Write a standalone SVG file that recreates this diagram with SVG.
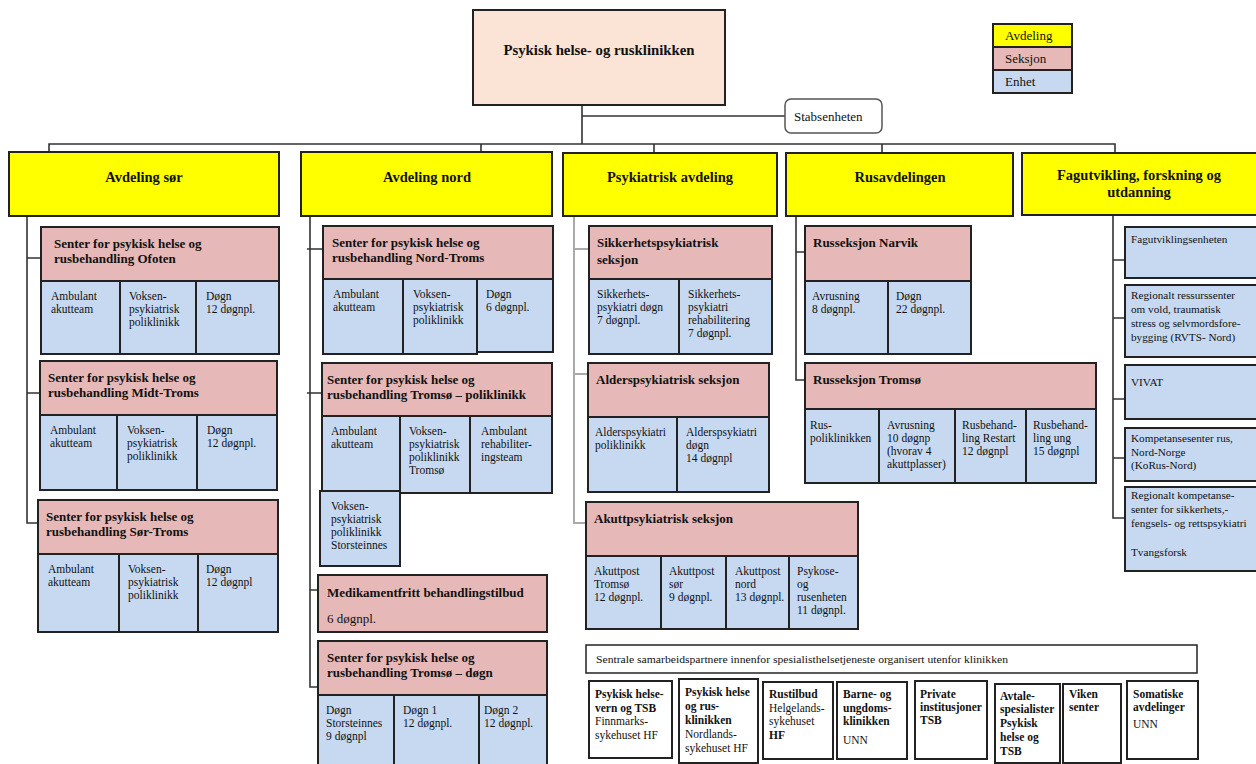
<svg xmlns="http://www.w3.org/2000/svg" width="1256" height="764" viewBox="0 0 1256 764">
<style>
rect{stroke:#222;stroke-width:2}
.ya{fill:#ffff00}.sk{fill:#e6b8b7}.en{fill:#c6d9f1}.tp{fill:#fbe4d5}.wh{fill:#ffffff}
text{font-family:"Liberation Serif","Times New Roman",serif;fill:#111}
.t1{font-size:14.8px;font-weight:bold;text-anchor:middle}
.ty{font-size:14.5px;font-weight:bold;text-anchor:middle}
.ts{font-size:13px;font-weight:bold}
.tm{font-size:13px}
.tc{font-size:11.5px}
.tr{font-size:11.2px}
.tb{font-size:11.5px;font-weight:bold}
.tn{font-size:11.5px}
.lg{font-size:13px}
#connectors path{fill:none;stroke:#333;stroke-width:1.6}
#connectors path.lt{stroke:#aaa;stroke-width:2}
</style>

<g id="connectors">
<path d="M582 106V144M582 116H785"/>
<path d="M49 152V144H1115V152M481 144V152M654 144V152M882 144V152"/>
<path d="M27 216V523H38M27 258H41M27 393H40"/>
<path d="M310 216V687H318M307 249H323M307 393H322M310 590H318"/>
<path class="lt" d="M574 216V523H586M574 249H589M574 374H588"/>
<path d="M796 216V380H805M796 252H805"/>
<path d="M1113 216V518H1125M1113 260H1125M1113 318H1125M1113 399H1125M1113 458H1125"/>
</g>

<g id="klinikken">
<rect class="tp" x="473" y="10" width="252" height="95"/>
<text class="t1" x="599" y="55">Psykisk helse- og rusklinikken</text>
</g>

<g id="legend">
<rect class="ya" x="993" y="24" width="79" height="23"/>
<rect class="sk" x="993" y="47" width="79" height="23"/>
<rect class="en" x="993" y="70" width="79" height="23"/>
<text class="lg" x="1005" y="40">Avdeling</text>
<text class="lg" x="1005" y="63">Seksjon</text>
<text class="lg" x="1005" y="86">Enhet</text>
</g>

<g id="stabsenheten">
<rect class="wh" x="785" y="99" width="97" height="34" rx="6" style="stroke:#555;stroke-width:1.5"/>
<text class="lg" x="794" y="121">Stabsenheten</text>
</g>

<g id="avdeling-sor">
<rect class="ya" x="9" y="152" width="270" height="64"/>
<text class="ty" x="144" y="182">Avdeling sør</text>
</g>
<g id="avdeling-nord">
<rect class="ya" x="301" y="152" width="251" height="64"/>
<text class="ty" x="427" y="182">Avdeling nord</text>
</g>
<g id="psykiatrisk-avdeling">
<rect class="ya" x="563" y="153" width="214" height="63"/>
<text class="ty" x="670" y="182">Psykiatrisk avdeling</text>
</g>
<g id="rusavdelingen">
<rect class="ya" x="786" y="153" width="227" height="63"/>
<text class="ty" x="900" y="182">Rusavdelingen</text>
</g>
<g id="fagutvikling">
<rect class="ya" x="1022" y="153" width="240" height="62"/>
<text class="ty" x="1139" y="180">Fagutvikling, forskning og</text>
<text class="ty" x="1139" y="197">utdanning</text>
</g>

<g id="ofoten">
<rect class="sk" x="41" y="227" width="238" height="54"/>
<rect class="en" x="41" y="281" width="79" height="73"/>
<rect class="en" x="120" y="281" width="76" height="73"/>
<rect class="en" x="196" y="281" width="83" height="73"/>
<text class="ts" x="54" y="248">Senter for psykisk helse og</text>
<text class="ts" x="54" y="263">rusbehandling Ofoten</text>
<text class="tc" y="300"><tspan x="51">Ambulant</tspan><tspan x="51" dy="13">akutteam</tspan></text>
<text class="tc" y="300"><tspan x="129">Voksen-</tspan><tspan x="129" dy="13">psykiatrisk</tspan><tspan x="129" dy="13">poliklinikk</tspan></text>
<text class="tc" y="300"><tspan x="206">Døgn</tspan><tspan x="206" dy="13">12 døgnpl.</tspan></text>
</g>

<g id="midt-troms">
<rect class="sk" x="40" y="361" width="237" height="54"/>
<rect class="en" x="40" y="415" width="77" height="75"/>
<rect class="en" x="117" y="415" width="80" height="75"/>
<rect class="en" x="197" y="415" width="80" height="75"/>
<text class="ts" x="48" y="382">Senter for psykisk helse og</text>
<text class="ts" x="48" y="397">rusbehandling Midt-Troms</text>
<text class="tc" y="434"><tspan x="50">Ambulant</tspan><tspan x="50" dy="13">akutteam</tspan></text>
<text class="tc" y="434"><tspan x="127">Voksen-</tspan><tspan x="127" dy="13">psykiatrisk</tspan><tspan x="127" dy="13">poliklinikk</tspan></text>
<text class="tc" y="434"><tspan x="207">Døgn</tspan><tspan x="207" dy="13">12 døgnpl.</tspan></text>
</g>

<g id="sor-troms">
<rect class="sk" x="38" y="500" width="240" height="54"/>
<rect class="en" x="38" y="554" width="81" height="78"/>
<rect class="en" x="119" y="554" width="79" height="78"/>
<rect class="en" x="198" y="554" width="80" height="78"/>
<text class="ts" x="46" y="521">Senter for psykisk helse og</text>
<text class="ts" x="46" y="536">rusbehandling Sør-Troms</text>
<text class="tc" y="573"><tspan x="48">Ambulant</tspan><tspan x="48" dy="13">akutteam</tspan></text>
<text class="tc" y="573"><tspan x="128">Voksen-</tspan><tspan x="128" dy="13">psykiatrisk</tspan><tspan x="128" dy="13">poliklinikk</tspan></text>
<text class="tc" y="573"><tspan x="206">Døgn</tspan><tspan x="206" dy="13">12 døgnpl</tspan></text>
</g>

<g id="nord-troms">
<rect class="sk" x="323" y="226" width="230" height="53"/>
<rect class="en" x="323" y="279" width="80" height="75"/>
<rect class="en" x="403" y="279" width="74" height="75"/>
<rect class="en" x="477" y="279" width="76" height="73"/>
<text class="ts" x="332" y="247">Senter for psykisk helse og</text>
<text class="ts" x="332" y="262">rusbehandling Nord-Troms</text>
<text class="tc" y="298"><tspan x="333">Ambulant</tspan><tspan x="333" dy="13">akutteam</tspan></text>
<text class="tc" y="298"><tspan x="413">Voksen-</tspan><tspan x="413" dy="13">psykiatrisk</tspan><tspan x="413" dy="13">poliklinikk</tspan></text>
<text class="tc" y="298"><tspan x="486">Døgn</tspan><tspan x="486" dy="13">6 døgnpl.</tspan></text>
</g>

<g id="tromso-poliklinikk">
<rect class="sk" x="322" y="363" width="230" height="53"/>
<rect class="en" x="322" y="416" width="78" height="77"/>
<rect class="en" x="400" y="416" width="70" height="77"/>
<rect class="en" x="470" y="416" width="82" height="77"/>
<text class="ts" x="327" y="384">Senter for psykisk helse og</text>
<text class="ts" x="327" y="399">rusbehandling Tromsø – poliklinikk</text>
<text class="tc" y="435"><tspan x="331">Ambulant</tspan><tspan x="331" dy="13">akutteam</tspan></text>
<text class="tc" y="435"><tspan x="409">Voksen-</tspan><tspan x="409" dy="13">psykiatrisk</tspan><tspan x="409" dy="13">poliklinikk</tspan><tspan x="409" dy="13">Tromsø</tspan></text>
<text class="tc" y="435"><tspan x="481">Ambulant</tspan><tspan x="481" dy="13">rehabiliter-</tspan><tspan x="481" dy="13">ingsteam</tspan></text>
</g>

<g id="storsteinnes-poliklinikk">
<rect class="en" x="320" y="491" width="80" height="75"/>
<text class="tc" y="510"><tspan x="331">Voksen-</tspan><tspan x="331" dy="13">psykiatrisk</tspan><tspan x="331" dy="13">poliklinikk</tspan><tspan x="331" dy="13">Storsteinnes</tspan></text>
</g>

<g id="medikamentfritt">
<rect class="sk" x="318" y="575" width="229" height="57"/>
<text class="ts" x="327" y="597">Medikamentfritt behandlingstilbud</text>
<text class="tm" x="327" y="623">6 døgnpl.</text>
</g>

<g id="tromso-dogn">
<rect class="sk" x="318" y="641" width="229" height="54"/>
<rect class="en" x="318" y="695" width="76" height="75"/>
<rect class="en" x="394" y="695" width="85" height="75"/>
<rect class="en" x="479" y="695" width="68" height="75"/>
<text class="ts" x="327" y="662">Senter for psykisk helse og</text>
<text class="ts" x="327" y="677">rusbehandling Tromsø – døgn</text>
<text class="tc" y="714"><tspan x="326">Døgn</tspan><tspan x="326" dy="13">Storsteinnes</tspan><tspan x="326" dy="13">9 døgnpl</tspan></text>
<text class="tc" y="714"><tspan x="403">Døgn 1</tspan><tspan x="403" dy="13">12 døgnpl.</tspan></text>
<text class="tc" y="714"><tspan x="484">Døgn 2</tspan><tspan x="484" dy="13">12 døgnpl.</tspan></text>
</g>

<g id="sikkerhetspsykiatrisk">
<rect class="sk" x="589" y="226" width="183" height="53"/>
<rect class="en" x="589" y="279" width="90" height="75"/>
<rect class="en" x="679" y="279" width="93" height="75"/>
<text class="ts" x="597" y="247">Sikkerhetspsykiatrisk</text>
<text class="ts" x="597" y="264">seksjon</text>
<text class="tc" y="298"><tspan x="597">Sikkerhets-</tspan><tspan x="597" dy="13">psykiatri døgn</tspan><tspan x="597" dy="13">7 døgnpl.</tspan></text>
<text class="tc" y="298"><tspan x="688">Sikkerhets-</tspan><tspan x="688" dy="13">psykiatri</tspan><tspan x="688" dy="13">rehabilitering</tspan><tspan x="688" dy="13">7 døgnpl.</tspan></text>
</g>

<g id="alderspsykiatrisk">
<rect class="sk" x="588" y="363" width="181" height="54"/>
<rect class="en" x="588" y="417" width="89" height="75"/>
<rect class="en" x="677" y="417" width="92" height="75"/>
<text class="ts" x="596" y="384">Alderspsykiatrisk seksjon</text>
<text class="tc" y="436"><tspan x="595">Alderspsykiatri</tspan><tspan x="595" dy="13">poliklinikk</tspan></text>
<text class="tc" y="436"><tspan x="686">Alderspsykiatri</tspan><tspan x="686" dy="13">døgn</tspan><tspan x="686" dy="13">14 døgnpl</tspan></text>
</g>

<g id="akuttpsykiatrisk">
<rect class="sk" x="586" y="502" width="272" height="54"/>
<rect class="en" x="586" y="556" width="75" height="73"/>
<rect class="en" x="661" y="556" width="65" height="73"/>
<rect class="en" x="726" y="556" width="63" height="73"/>
<rect class="en" x="789" y="556" width="69" height="73"/>
<text class="ts" x="594" y="523">Akuttpsykiatrisk seksjon</text>
<text class="tc" y="575"><tspan x="594">Akuttpost</tspan><tspan x="594" dy="13">Tromsø</tspan><tspan x="594" dy="13">12 døgnpl.</tspan></text>
<text class="tc" y="575"><tspan x="669">Akuttpost</tspan><tspan x="669" dy="13">sør</tspan><tspan x="669" dy="13">9 døgnpl.</tspan></text>
<text class="tc" y="575"><tspan x="735">Akuttpost</tspan><tspan x="735" dy="13">nord</tspan><tspan x="735" dy="13">13 døgnpl.</tspan></text>
<text class="tc" y="575"><tspan x="797">Psykose-</tspan><tspan x="797" dy="13">og</tspan><tspan x="797" dy="13">rusenheten</tspan><tspan x="797" dy="13">11 døgnpl.</tspan></text>
</g>

<g id="russeksjon-narvik">
<rect class="sk" x="805" y="226" width="166" height="55"/>
<rect class="en" x="805" y="281" width="83" height="73"/>
<rect class="en" x="888" y="281" width="83" height="73"/>
<text class="ts" x="813" y="247">Russeksjon Narvik</text>
<text class="tc" y="300"><tspan x="812">Avrusning</tspan><tspan x="812" dy="13">8 døgnpl.</tspan></text>
<text class="tc" y="300"><tspan x="896">Døgn</tspan><tspan x="896" dy="13">22 døgnpl.</tspan></text>
</g>

<g id="russeksjon-tromso">
<rect class="sk" x="805" y="363" width="291" height="46"/>
<rect class="en" x="805" y="409" width="74" height="74"/>
<rect class="en" x="879" y="409" width="76" height="74"/>
<rect class="en" x="955" y="409" width="71" height="74"/>
<rect class="en" x="1026" y="409" width="70" height="74"/>
<text class="ts" x="813" y="384">Russeksjon Tromsø</text>
<text class="tc" y="429"><tspan x="810">Rus-</tspan><tspan x="810" dy="13">poliklinikken</tspan></text>
<text class="tc" y="429"><tspan x="887">Avrusning</tspan><tspan x="887" dy="13">10 døgnp</tspan><tspan x="887" dy="13">(hvorav 4</tspan><tspan x="887" dy="13">akuttplasser)</tspan></text>
<text class="tc" y="429"><tspan x="962">Rusbehand-</tspan><tspan x="962" dy="13">ling Restart</tspan><tspan x="962" dy="13">12 døgnpl</tspan></text>
<text class="tc" y="429"><tspan x="1033">Rusbehand-</tspan><tspan x="1033" dy="13">ling ung</tspan><tspan x="1033" dy="13">15 døgnpl</tspan></text>
</g>

<g id="fagutviklingsenheten">
<rect class="en" x="1125" y="227" width="135" height="51"/>
<text class="tr" x="1131" y="243">Fagutviklingsenheten</text>
</g>
<g id="rvts">
<rect class="en" x="1125" y="285" width="135" height="72"/>
<text class="tr" y="299"><tspan x="1131">Regionalt ressurssenter</tspan><tspan x="1131" dy="14">om vold, traumatisk</tspan><tspan x="1131" dy="14">stress og selvmordsfore-</tspan><tspan x="1131" dy="14">bygging (RVTS- Nord)</tspan></text>
</g>
<g id="vivat">
<rect class="en" x="1125" y="365" width="135" height="54"/>
<text class="tr" x="1131" y="386">VIVAT</text>
</g>
<g id="korus">
<rect class="en" x="1125" y="428" width="135" height="53"/>
<text class="tr" y="442"><tspan x="1131">Kompetansesenter rus,</tspan><tspan x="1131" dy="13.5">Nord-Norge</tspan><tspan x="1131" dy="13.5">(KoRus-Nord)</tspan></text>
</g>
<g id="sirius">
<rect class="en" x="1125" y="487" width="135" height="84"/>
<text class="tr" y="499"><tspan x="1131">Regionalt kompetanse-</tspan><tspan x="1131" dy="14">senter for sikkerhets,-</tspan><tspan x="1131" dy="14">fengsels- og rettspsykiatri</tspan><tspan x="1131" dy="29">Tvangsforsk</tspan></text>
</g>

<g id="samarbeidspartnere">
<rect class="wh" x="586" y="645" width="611" height="28" style="stroke-width:1.5"/>
<text class="tn" x="596" y="663" textLength="412" lengthAdjust="spacingAndGlyphs" style="font-size:11px">Sentrale samarbeidspartnere innenfor spesialisthelsetjeneste organisert utenfor klinikken</text>
</g>
<g id="finnmark">
<rect class="wh" x="589" y="681" width="83" height="77"/>
<text class="tb" x="595" y="698">Psykisk helse-</text>
<text class="tb" x="595" y="712">vern og TSB</text>
<text class="tn" x="595" y="725">Finnmarks-</text>
<text class="tn" x="595" y="739">sykehuset HF</text>
</g>
<g id="nordland">
<rect class="wh" x="679" y="679" width="79" height="84"/>
<text class="tb" x="685" y="696">Psykisk helse</text>
<text class="tb" x="685" y="710">og rus-</text>
<text class="tb" x="685" y="724">klinikken</text>
<text class="tn" x="685" y="738">Nordlands-</text>
<text class="tn" x="685" y="752">sykehuset HF</text>
</g>
<g id="helgeland">
<rect class="wh" x="763" y="682" width="70" height="77"/>
<text class="tb" x="769" y="698">Rustilbud</text>
<text class="tn" x="769" y="712">Helgelands-</text>
<text class="tn" x="769" y="725">sykehuset</text>
<text class="tb" x="769" y="739">HF</text>
</g>
<g id="buk">
<rect class="wh" x="837" y="682" width="70" height="77"/>
<text class="tb" x="843" y="698">Barne- og</text>
<text class="tb" x="843" y="712">ungdoms-</text>
<text class="tb" x="843" y="725">klinikken</text>
<text class="tn" x="843" y="744">UNN</text>
</g>
<g id="private">
<rect class="wh" x="915" y="681" width="72" height="78"/>
<text class="tb" x="920" y="698">Private</text>
<text class="tb" x="920" y="711">institusjoner</text>
<text class="tb" x="920" y="724">TSB</text>
</g>
<g id="avtalespesialister">
<rect class="wh" x="995" y="684" width="65" height="79"/>
<text class="tb" x="1000" y="700">Avtale-</text>
<text class="tb" x="1000" y="713">spesialister</text>
<text class="tb" x="1000" y="727">Psykisk</text>
<text class="tb" x="1000" y="741">helse og</text>
<text class="tb" x="1000" y="755">TSB</text>
</g>
<g id="viken">
<rect class="wh" x="1063" y="684" width="58" height="79"/>
<text class="tb" x="1069" y="698">Viken</text>
<text class="tb" x="1069" y="711">senter</text>
</g>
<g id="somatiske">
<rect class="wh" x="1127" y="681" width="71" height="78"/>
<text class="tb" x="1133" y="698">Somatiske</text>
<text class="tb" x="1133" y="711">avdelinger</text>
<text class="tn" x="1133" y="728">UNN</text>
</g>
</svg>
